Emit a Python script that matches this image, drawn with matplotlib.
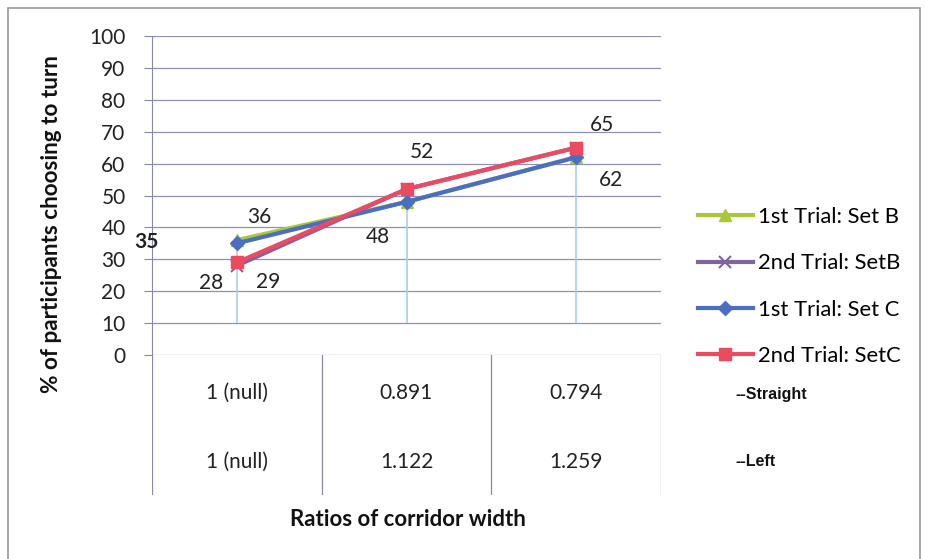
import matplotlib
matplotlib.use("Agg")
import matplotlib.pyplot as plt
from matplotlib.patches import Rectangle

categories = ["1 (null)", "0.891", "0.794"]
straight_labels = ["1 (null)", "0.891", "0.794"]
left_labels = ["1 (null)", "1.122", "1.259"]
series_names = ["1st Trial: Set B", "2nd Trial: SetB", "1st Trial: Set C", "2nd Trial: SetC"]
set_b_1st = [36, 48, 62]
set_b_2nd = [28, 52, 65]
set_c_1st = [35, 48, 62]
set_c_2nd = [29, 52, 65]
yticks = list(range(0, 101, 10))

W, H = 925, 559
fig = plt.figure(figsize=(W / 100, H / 100), dpi=100)
fig.patch.set_facecolor("white")
FONT = "Lato"

# outer border
fig.patches.append(Rectangle((8 / W, -0.02), 912 / W, 1 - 8 / H + 0.02, transform=fig.transFigure,
                             fill=False, edgecolor="#9a9a9a", lw=1.2))

ax = fig.add_axes([152 / W, (H - 355) / H, 509 / W, (355 - 36) / H])
x = list(range(len(categories)))
ax.set_xlim(-0.5, len(categories) - 0.5)
ax.set_ylim(0, 100)
ax.set_yticks(yticks)
ax.set_yticklabels([str(v) for v in yticks], fontsize=15, family=FONT, color="#222222")
ax.set_xticks([])
for s in ["top", "right", "bottom"]:
    ax.spines[s].set_visible(False)
ax.spines["left"].set_color("#8888a8")
ax.tick_params(axis="y", length=6, color="#8888a8", pad=13)
ax.yaxis.grid(True, color="#9090b4", lw=0.9)
ax.set_axisbelow(True)

# drop lines
allser = [set_b_1st, set_b_2nd, set_c_1st, set_c_2nd]
for i in x:
    ax.vlines(i, 10, max(s[i] for s in allser), color="#a9cdea", lw=1.2, zorder=1)

styles = [
    dict(color="#a8c83a", marker="^", ms=9),
    dict(color="#8064a2", marker="x", ms=8, mew=1.5),
    dict(color="#4a6fc2", marker="D", ms=7),
    dict(color="#ec4a60", marker="s", ms=9),
]
handles = []
for vals, st, name in zip(allser, styles, series_names):
    h, = ax.plot(x, vals, lw=3, label=name, zorder=3, **st)
    handles.append(h)

# data labels (series index, point index, offset px)
labels = [
    (0, 0, (22, 23)),
    (2, 0, (-90, 1)),
    (1, 0, (-26, -17)),
    (3, 0, (31, -20)),
    (0, 1, (-29, -35)),
    (1, 1, (15, 37)),
    (1, 2, (26, 23)),
    (0, 2, (35, -23)),
]
for si, pi, off in labels:
    v = allser[si][pi]
    ax.annotate(str(v), (pi, v), xytext=off, textcoords="offset pixels",
                ha="center", va="center", fontsize=15, family=FONT, color="#222222",
                fontweight="bold" if (si == 2 and pi == 0) else "normal", zorder=5)

ax.set_ylabel("% of participants choosing to turn", fontsize=16.2, family=FONT,
              fontweight="bold", color="#111111")
ax.yaxis.set_label_coords(-0.177, 0.41)

# table below
tax = fig.add_axes([152 / W, (H - 495) / H, 509 / W, (495 - 355) / H])
tax.set_xlim(-0.5, len(categories) - 0.5)
tax.set_ylim(0, 1)
tax.axis("off")
for b in [-0.5, 0.5, 1.5, 2.5]:
    tax.axvline(b, color="#8888a8", lw=0.9)
for i in x:
    tax.text(i, 0.73, straight_labels[i], ha="center", va="center", fontsize=15,
             family=FONT, color="#222222")
    tax.text(i, 0.235, left_labels[i], ha="center", va="center", fontsize=15,
             family=FONT, color="#222222")
fig.text(735 / W, 1 - 395 / H, "--Straight", fontsize=11.5, family="Liberation Sans",
         fontweight="bold", va="center", ha="left", color="#111111")
fig.text(735 / W, 1 - 461 / H, "--Left", fontsize=11.5, family="Liberation Sans",
         fontweight="bold", va="center", ha="left", color="#111111")

fig.text(408 / W, 1 - 519 / H, "Ratios of corridor width", fontsize=16, family=FONT,
         fontweight="bold", ha="center", va="center", color="#111111")

fig.legend(handles=handles, loc="upper left", bbox_to_anchor=(698 / W, 1 - 207 / H),
           frameon=False, prop=dict(family=FONT, size=15.8),
           handlelength=2.5, labelspacing=1.2, handletextpad=0.25, borderpad=0,
           borderaxespad=0)

fig.savefig("out.png", dpi=100, facecolor="white")
